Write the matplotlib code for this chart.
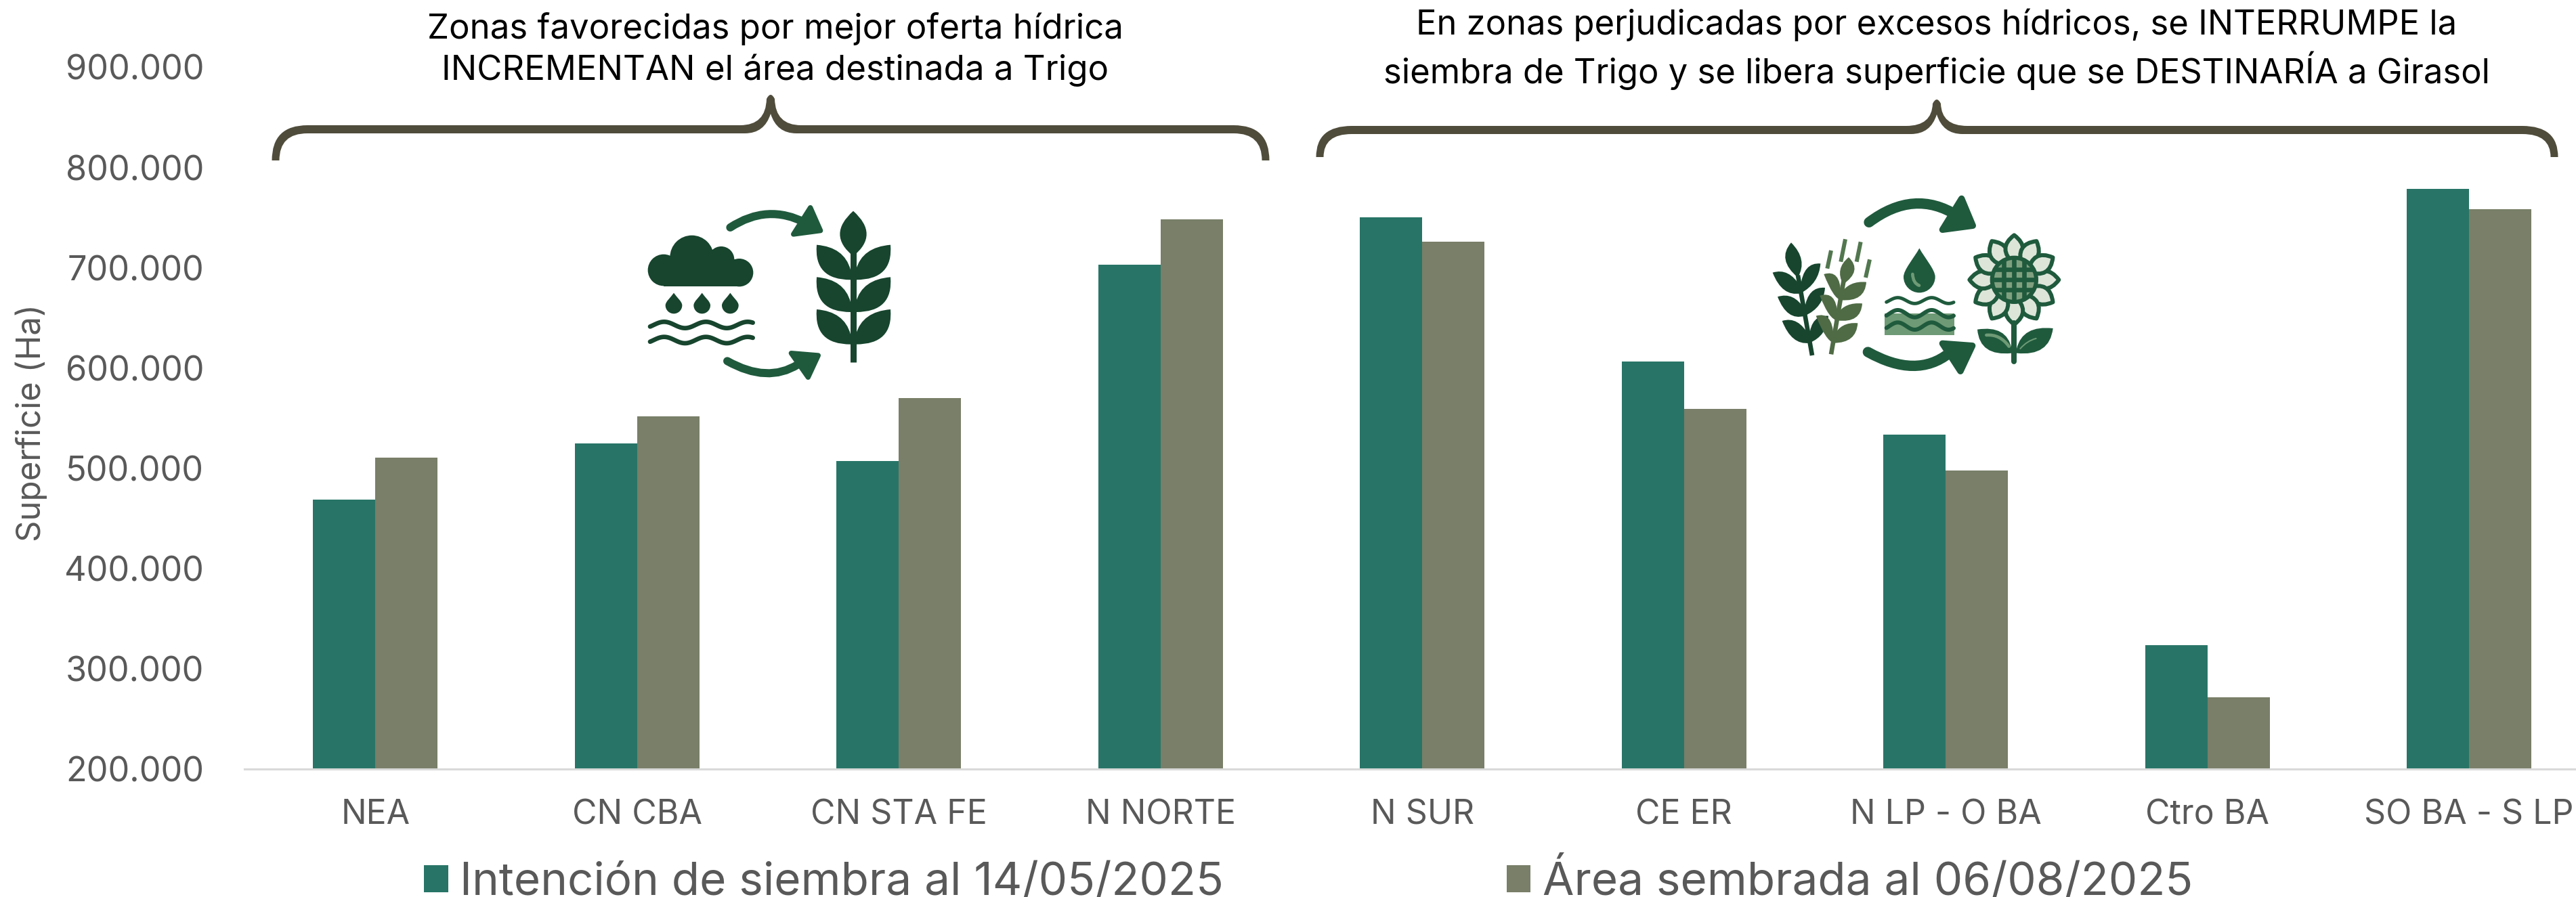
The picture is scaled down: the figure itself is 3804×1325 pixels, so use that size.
import numpy as np
import matplotlib
matplotlib.use('Agg')
import matplotlib.pyplot as plt
from matplotlib.path import Path
from matplotlib.patches import PathPatch, Circle, Rectangle
from matplotlib.ticker import FuncFormatter

zonas = ['NEA', 'CN CBA', 'CN STA FE', 'N NORTE', 'N SUR', 'CE ER', 'N LP - O BA', 'Ctro BA', 'SO BA - S LP']
intencion = [468600, 524600, 507100, 703100, 750200, 606400, 533500, 323700, 779000]
sembrada = [510500, 551700, 570100, 748200, 726100, 559300, 498100, 271400, 758700]
serie_1 = 'Intención de siembra al 14/05/2025'
serie_2 = 'Área sembrada al 06/08/2025'
titulo_1 = 'Zonas favorecidas por mejor oferta hídrica\nINCREMENTAN el área destinada a Trigo'
titulo_2 = ('En zonas perjudicadas por excesos hídricos, se INTERRUMPE la\n'
            'siembra de Trigo y se libera superficie que se DESTINARÍA a Girasol')

TEAL = '#287567'
OLIVA = '#797F68'
GRIS = '#595959'
BRACE = '#4F4C3B'
OSCURO = '#17452E'
VERDE = '#1F5A3D'
MEDIO = '#4F6B45'
CLARO = '#6E9A75'
PALIDO = '#DDE5D9'

W, H = 3804, 1325
plt.rcParams['font.family'] = ['Inter', 'DejaVu Sans']

fig = plt.figure(figsize=(W / 100, H / 100), dpi=100)
ax = fig.add_axes([361 / W, 1 - 1136 / H, (W - 361) / W, (1136 - 99.5) / H])

x = np.arange(len(zonas))
ancho = 0.238
b1 = ax.bar(x - ancho / 2, intencion, ancho, color=TEAL, label=serie_1)
b2 = ax.bar(x + ancho / 2, sembrada, ancho, color=OLIVA, label=serie_2)

ax.set_xlim(-0.5, (W - 554) / 386.5)
ax.set_ylim(200000, 900000)
ax.set_xticks(x)
ax.set_xticklabels(zonas)
ax.set_yticks(np.arange(200000, 900001, 100000))
ax.yaxis.set_major_formatter(FuncFormatter(lambda v, p: f'{v:,.0f}'.replace(',', '.')))
ax.tick_params(axis='both', length=0, labelcolor=GRIS)
ax.tick_params(axis='x', pad=32, labelsize=36)
ax.tick_params(axis='y', pad=43, labelsize=36.3)
for lado in ['top', 'left', 'right']:
    ax.spines[lado].set_visible(False)
ax.spines['bottom'].set_color('#D9D9D9')
ax.spines['bottom'].set_linewidth(2.2)

fig.text(46 / W, 1 - 625 / H, 'Superficie (Ha)', rotation=90, ha='center', va='center', color=GRIS, fontsize=35.5)

fig.legend(handles=[b1, b2], labels=[serie_1, serie_2], ncols=2, loc='lower left',
           bbox_to_anchor=(626 / W, 1 - 1336 / H), frameon=False, fontsize=48.5, labelcolor=GRIS,
           handlelength=0.53, handleheight=0.53, handletextpad=0.26, columnspacing=6.2, borderpad=0, borderaxespad=0)

# capa en pixeles para llaves, textos e iconos
capa = fig.add_axes([0, 0, 1, 1], zorder=5)
capa.set_xlim(0, W)
capa.set_ylim(H, 0)
capa.axis('off')
capa.patch.set_alpha(0)

capa.text(1145, 73, titulo_1, ha='center', va='center', fontsize=36.7, color='black', linespacing=1.3)
capa.text(2860, 73, titulo_2, ha='center', va='center', fontsize=36.5, color='black', linespacing=1.3)


def llave(x0, xt, x1, yb, yt, ytip):
    ya = yt + 12
    m, l, q, c = Path.MOVETO, Path.LINETO, Path.CURVE3, Path.CLOSEPOLY
    puntos = [
        ((x0 - 5.5, yb), m), ((x0 - 5.5, yt), q), ((x0 + 47, yt), q),
        ((xt - 45, yt), l), ((xt - 7, yt), q), ((xt - 6, ytip + 6), q),
        ((xt, ytip - 6), q), ((xt + 6, ytip + 6), q),
        ((xt + 7, yt), q), ((xt + 45, yt), q),
        ((x1 - 47, yt), l), ((x1 + 5.5, yt), q), ((x1 + 5.5, yb), q),
        ((x1 - 5.5, yb), l), ((x1 - 5.5, ya), q), ((x1 - 47, ya), q),
        ((xt + 38, ya), l), ((xt + 9, ya), q), ((xt, yt - 17), q),
        ((xt - 9, ya), q), ((xt - 38, ya), q),
        ((x0 + 47, ya), l), ((x0 + 5.5, ya), q), ((x0 + 5.5, yb), q),
        ((x0 - 5.5, yb), c),
    ]
    capa.add_patch(PathPatch(Path([p[0] for p in puntos], [p[1] for p in puntos]), fc=BRACE, ec='none'))


llave(407, 1138, 1869, 237, 185, 140)
llave(1949, 2860, 3772, 232, 186, 147)


class Icono:
    def __init__(self, ox, oy):
        self.ox, self.oy = ox, oy

    def p(self, pts):
        return [(a / 3 + self.ox, b / 3 + self.oy) for a, b in pts]

    def curva(self, pts, color, ancho_z, cap='round'):
        cods = [Path.MOVETO] + [Path.CURVE3] * (len(pts) - 1)
        capa.add_patch(PathPatch(Path(self.p(pts), cods), fc='none', ec=color, lw=ancho_z / 3 * 0.72, capstyle=cap))

    def linea(self, pts, color, ancho_z, cap='round'):
        capa.plot(*zip(*self.p(pts)), color=color, lw=ancho_z / 3 * 0.72, solid_capstyle=cap)

    def poli(self, pts, color, borde=0):
        capa.add_patch(PathPatch(Path(self.p(pts) + [(0, 0)], [Path.MOVETO] + [Path.LINETO] * (len(pts) - 1) + [Path.CLOSEPOLY]),
                                 fc=color, ec=color, lw=borde / 3 * 0.72, joinstyle='round'))

    def hoja(self, base, c1, tip, c2, base2, color):
        pts = [base, c1, tip, c2, base2]
        cods = [Path.MOVETO, Path.CURVE3, Path.CURVE3, Path.CURVE3, Path.CURVE3]
        capa.add_patch(PathPatch(Path(self.p(pts), cods), fc=color, ec='none'))

    def circ(self, cx, cy, r, color, **kw):
        c = Circle(self.p([(cx, cy)])[0], r / 3, fc=color, ec=kw.pop('ec', 'none'), **kw)
        capa.add_patch(c)
        return c

    def gota(self, cx, top, cy, r, color):
        pts = [(cx, top), (cx + 0.35 * r, top + 0.35 * (cy - top)), (cx + r, cy - 0.45 * r), (cx + r, cy),
               (cx + r, cy + 0.55 * r), (cx + 0.55 * r, cy + r), (cx, cy + r),
               (cx - 0.55 * r, cy + r), (cx - r, cy + 0.55 * r), (cx - r, cy),
               (cx - r, cy - 0.45 * r), (cx - 0.35 * r, top + 0.35 * (cy - top)), (cx, top)]
        cods = [Path.MOVETO] + [Path.CURVE4] * 12
        capa.add_patch(PathPatch(Path(self.p(pts), cods), fc=color, ec='none'))

    def onda(self, x0, x1, y, amp, periodo, color, ancho_z, fase=2.6):
        xs = np.linspace(x0, x1, 80)
        self.linea(list(zip(xs, y + amp * np.sin((xs - x0) / periodo * 2 * np.pi + fase))), color, ancho_z)

    def hoja_izq(self, base, tip, color):
        self.hoja((base[0], base[1] - 15), (tip[0] + 72, tip[1] - 23), tip, (tip[0] + 42, tip[1] + 108),
                  (base[0], base[1] + 15), color)

    def hoja_der(self, base, tip, color):
        self.hoja((base[0], base[1] - 15), (tip[0] - 76, tip[1] - 7), tip, (tip[0] - 6, tip[1] + 88),
                  (base[0], base[1] + 15), color)


# icono 1: lluvia y trigo
i1 = Icono(900, 250)
for cx, cy, r in [(240, 447, 70), (365, 390, 97), (495, 400, 58), (575, 458, 62)]:
    i1.circ(cx, cy, r, OSCURO)
capa.add_patch(Rectangle(i1.p([(240, 400)])[0], 335 / 3, 120 / 3, fc=OSCURO, ec='none'))
for cx in [285, 410, 535]:
    i1.gota(cx, 548, 603, 37, OSCURO)
i1.onda(180, 635, 690, 14, 185, OSCURO, 20)
i1.onda(180, 635, 757, 14, 185, OSCURO, 20)
i1.linea([(1080, 370), (1080, 855)], OSCURO, 27, 'butt')
i1.hoja((1080, 385), (962, 290), (1080, 185), (1198, 290), (1080, 385), OSCURO)
for dy in [0, 143, 286]:
    i1.hoja((1068, 445 + dy), (1040, 345 + dy), (918, 335 + dy), (905, 490 + dy), (1068, 490 + dy), OSCURO)
    i1.hoja((1092, 445 + dy), (1120, 345 + dy), (1245, 335 + dy), (1258, 490 + dy), (1092, 490 + dy), OSCURO)
i1.curva([(535, 258), (700, 150), (870, 238)], VERDE, 36)
i1.poli([(890, 170), (935, 272), (815, 288)], VERDE, 22)
i1.curva([(522, 850), (700, 950), (835, 865)], VERDE, 36)
i1.poli([(805, 815), (925, 825), (880, 922)], VERDE, 22)

# icono 2: trigo, agua y girasol
i2 = Icono(2580, 250)
i2.linea([(225, 470), (288, 825)], OSCURO, 20, 'butt')
i2.hoja((225, 480), (130, 400), (195, 325), (270, 400), (225, 480), OSCURO)
for tl, tr, by in [((113, 458), (325, 418), 535), ((135, 565), (345, 525), 635), ((155, 672), (360, 650), 755)]:
    bx = 225 + (by - 470) * 0.177
    i2.hoja_izq((bx, by), tl, OSCURO)
    i2.hoja_der((bx, by), tr, OSCURO)
i2.linea([(430, 480), (372, 820)], MEDIO, 20, 'butt')
i2.hoja((425, 510), (388, 440), (450, 390), (512, 450), (425, 510), MEDIO)
for tl, tr, by in [((340, 465), (528, 500), 565), ((322, 560), (510, 595), 655), ((305, 650), (490, 682), 755)]:
    bx = 430 - (by - 480) * 0.17
    i2.hoja_izq((bx, by), tl, MEDIO)
    i2.hoja_der((bx, by), tr, MEDIO)
for a, b in [((372, 360), (355, 440)), ((435, 310), (415, 410)), ((503, 322), (485, 410)), ((543, 400), (525, 480))]:
    i2.linea([a, b], '#52774F', 18, 'butt')
i2.gota(763, 350, 477, 70, VERDE)
i2.curva([(733, 465), (735, 505), (762, 515)], CLARO, 14)
i2.poli([(610, 640), (918, 640), (918, 735), (610, 735)], CLARO)
i2.onda(617, 915, 582, 13, 150, VERDE, 15)
i2.onda(617, 915, 640, 16, 150, VERDE, 18)
i2.onda(617, 915, 695, 16, 150, VERDE, 18)
capa.add_patch(Rectangle(i2.p([(595, 595)])[0], 15 / 3, 150 / 3, fc='white', ec='none'))
cx, cy = 1183, 490
for ang in np.deg2rad(np.arange(0, 360, 30)):
    ux, uy = np.cos(ang), np.sin(ang)
    vx, vy = -uy, ux
    pts = [(cx + ux * 70, cy + uy * 70), (cx + ux * 140 + vx * 78, cy + uy * 140 + vy * 78),
           (cx + ux * 198, cy + uy * 198), (cx + ux * 140 - vx * 78, cy + uy * 140 - vy * 78),
           (cx + ux * 70, cy + uy * 70)]
    cods = [Path.MOVETO, Path.CURVE3, Path.CURVE3, Path.CURVE3, Path.CURVE3]
    capa.add_patch(PathPatch(Path(i2.p(pts), cods), fc=PALIDO, ec=VERDE, lw=18 / 3 * 0.72, joinstyle='round'))
disco = i2.circ(cx, cy, 98, '#7FA07F', ec=VERDE, lw=18 / 3 * 0.72, zorder=3)
for d in [-45, 0, 45]:
    l1, = capa.plot(*zip(*i2.p([(cx + d, cy - 98), (cx + d, cy + 98)])), color=VERDE, lw=20 / 3 * 0.72, zorder=4)
    l2, = capa.plot(*zip(*i2.p([(cx - 98, cy + d), (cx + 98, cy + d)])), color=VERDE, lw=20 / 3 * 0.72, zorder=4)
    l1.set_clip_path(disco)
    l2.set_clip_path(disco)
i2.linea([(1183, 680), (1183, 852)], VERDE, 24)
i2.hoja((1172, 795), (1150, 690), (1020, 710), (1030, 830), (1172, 815), VERDE)
i2.hoja((1194, 795), (1220, 690), (1355, 705), (1340, 830), (1194, 815), VERDE)
i2.curva([(1060, 735), (1120, 730), (1160, 785)], CLARO, 14)
i2.curva([(1210, 795), (1240, 760), (1280, 750)], CLARO, 6)
# flechas del icono 2
i2.curva([(540, 235), (740, 85), (930, 205)], VERDE, 46)
i2.poli([(950, 130), (1000, 250), (865, 268)], VERDE, 28)
i2.curva([(535, 810), (750, 930), (895, 815)], VERDE, 46)
i2.poli([(865, 772), (998, 782), (945, 895)], VERDE, 28)

capa.set_xlim(0, W)
capa.set_ylim(H, 0)
fig.savefig('out.png', dpi=100)
